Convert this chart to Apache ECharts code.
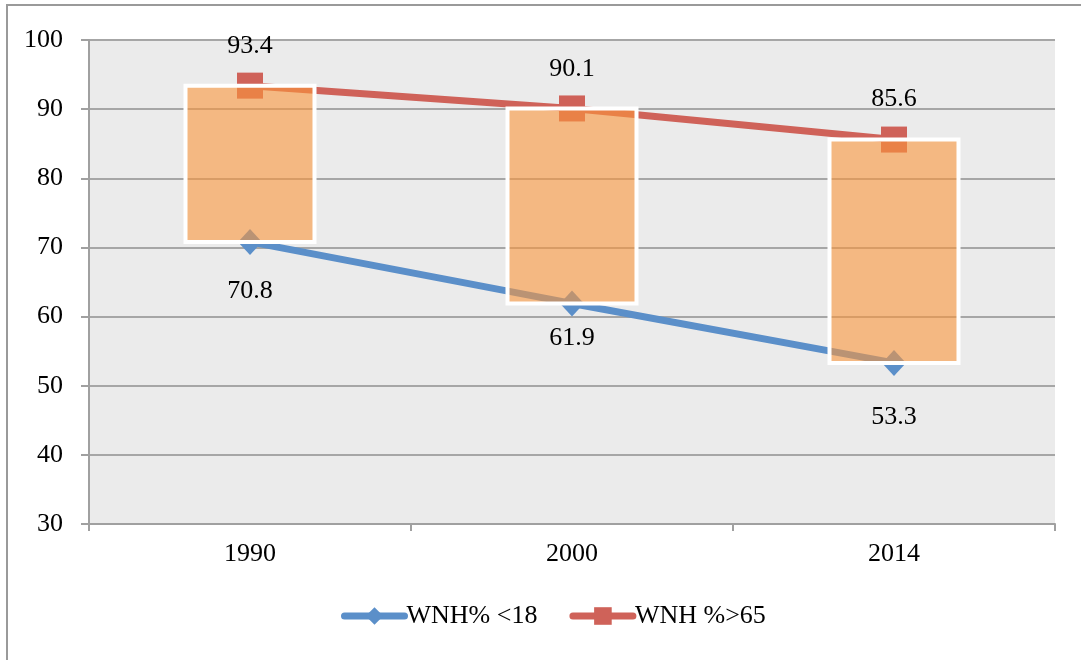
<!DOCTYPE html>
<html>
<head>
<meta charset="utf-8">
<script src="https://cdn.jsdelivr.net/npm/echarts@6/dist/echarts.min.js"></script>
<style>
  html, body { margin: 0; padding: 0; background: #fff; }
  #main { width: 1081px; height: 660px; }
</style>
</head>
<body>
<div id="main"></div>
<script>
  // chart data
  var years = ['1990', '2000', '2014'];
  var under18 = [70.8, 61.9, 53.3];   // WNH% <18
  var over65 = [93.4, 90.1, 85.6];    // WNH %>65

  // label spacing per point (from the original layout)
  var topDist = [13, 13, 14];
  var bottomDist = [23, 9, 28];

  var font = "'Liberation Serif', 'Times New Roman', serif";
  var fs = 26;

  var myChart = echarts.init(document.getElementById('main'));

  var lowData = under18.map(function (v, i) {
    return { value: v, label: { distance: bottomDist[i] } };
  });
  var highData = over65.map(function (v, i) {
    return { value: v, label: { distance: topDist[i] } };
  });
  // box between the two series: [open, close, lowest, highest]
  var boxData = years.map(function (y, i) {
    return [under18[i], over65[i], under18[i], over65[i]];
  });

  var option = {
    backgroundColor: '#ffffff',
    animation: false,
    textStyle: { fontFamily: font },
    graphic: [{
      type: 'rect',
      shape: { x: 7, y: 5, width: 1200, height: 800 },
      style: { fill: 'none', stroke: '#9a9a9a', lineWidth: 2 },
      silent: true
    }],
    grid: {
      left: 89, right: 26, top: 40, bottom: 136,
      show: true,
      backgroundColor: '#ebebeb',
      borderWidth: 0
    },
    legend: {
      bottom: 26,
      left: 336,
      itemWidth: 60,
      itemHeight: 22,
      itemGap: 32,
      lineStyle: { width: 7, cap: 'round' },
      textStyle: { fontFamily: font, fontSize: fs, color: '#000', padding: [0, 0, 0, -3] },
      data: ['WNH% <18', 'WNH %>65']
    },
    xAxis: {
      type: 'category',
      data: years,
      boundaryGap: true,
      axisLine: { lineStyle: { color: '#a0a0a0', width: 2 } },
      axisTick: { show: true, length: 7, lineStyle: { color: '#a0a0a0', width: 2 } },
      axisLabel: { fontFamily: font, fontSize: fs, color: '#000', margin: 17 },
      splitLine: { show: false }
    },
    yAxis: {
      type: 'value',
      min: 30,
      max: 100,
      interval: 10,
      axisLine: { show: true, lineStyle: { color: '#a0a0a0', width: 2 } },
      axisTick: { show: true, length: 8, lineStyle: { color: '#a0a0a0', width: 2 } },
      axisLabel: { fontFamily: font, fontSize: fs, color: '#000', margin: 26 },
      splitLine: { lineStyle: { color: '#a6a6a6', width: 2 } }
    },
    series: [
      {
        name: 'WNH% <18',
        type: 'line',
        z: 2,
        data: lowData,
        symbol: 'diamond',
        symbolSize: [24, 26],
        lineStyle: { color: '#5b8fc9', width: 7 },
        itemStyle: { color: '#5b8fc9' },
        label: {
          show: true, position: 'bottom',
          fontFamily: font, fontSize: fs, color: '#000'
        }
      },
      {
        name: 'WNH %>65',
        type: 'line',
        z: 2,
        data: highData,
        symbol: 'rect',
        symbolSize: 26,
        lineStyle: { color: '#cf6259', width: 7 },
        itemStyle: { color: '#cf6259' },
        label: {
          show: true, position: 'top',
          fontFamily: font, fontSize: fs, color: '#000'
        }
      },
      {
        name: 'box',
        type: 'candlestick',
        z: 3,
        barWidth: 129,
        data: boxData,
        itemStyle: {
          color: 'rgba(250,150,60,0.6)',
          color0: 'rgba(250,150,60,0.6)',
          borderColor: '#ffffff',
          borderColor0: '#ffffff',
          borderWidth: 4
        },
        silent: true
      }
    ]
  };

  myChart.setOption(option);
</script>
</body>
</html>
